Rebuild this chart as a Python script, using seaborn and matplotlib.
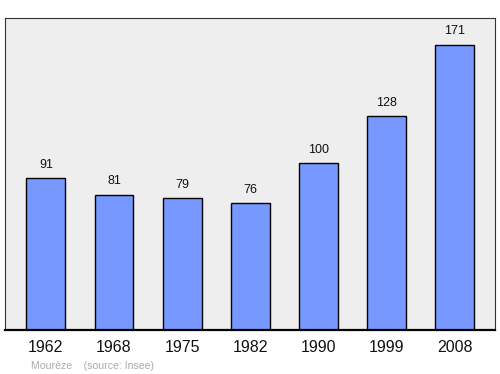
import matplotlib
matplotlib.use("Agg")
import matplotlib.pyplot as plt
import seaborn as sns
import pandas as pd

years = ["1962", "1968", "1975", "1982", "1990", "1999", "2008"]
population = [91, 81, 79, 76, 100, 128, 171]

sns.set_theme(style="white")
plt.rcParams['font.family'] = ['Liberation Sans', 'DejaVu Sans']

df = pd.DataFrame({"year": years, "pop": population})

fig = plt.figure(figsize=(5, 3.74), dpi=100)
ax = fig.add_axes([0.01, 0.1176, 0.98, 0.8342])
ax.set_facecolor("#eeeeee")

sns.barplot(data=df, x="year", y="pop", color="#7799ff", saturation=1,
            width=0.57, edgecolor="black", linewidth=1, ax=ax)

for i, v in enumerate(population):
    ax.annotate(str(v), (i, v), xytext=(0, 5.5), textcoords="offset points",
                ha="center", va="bottom", fontsize=9, color="#111111")

ax.set_xlim(-0.6, 6.59)
ax.set_ylim(0, 187)
ax.set_yticks([])
ax.set_xlabel("")
ax.set_ylabel("")
ax.tick_params(axis="x", length=0, labelsize=11.5, pad=7, colors="#111111")
for s in ["left", "right", "top"]:
    ax.spines[s].set_color("#333333")
    ax.spines[s].set_linewidth(0.8)
ax.spines["bottom"].set_color("black")
ax.spines["bottom"].set_linewidth(1.6)

fig.text(0.062, 0.009, "Mourèze    (source: Insee)", fontsize=7.6, color="#aaaaaa",
         ha="left", va="bottom")

fig.savefig("out.png", dpi=100)
